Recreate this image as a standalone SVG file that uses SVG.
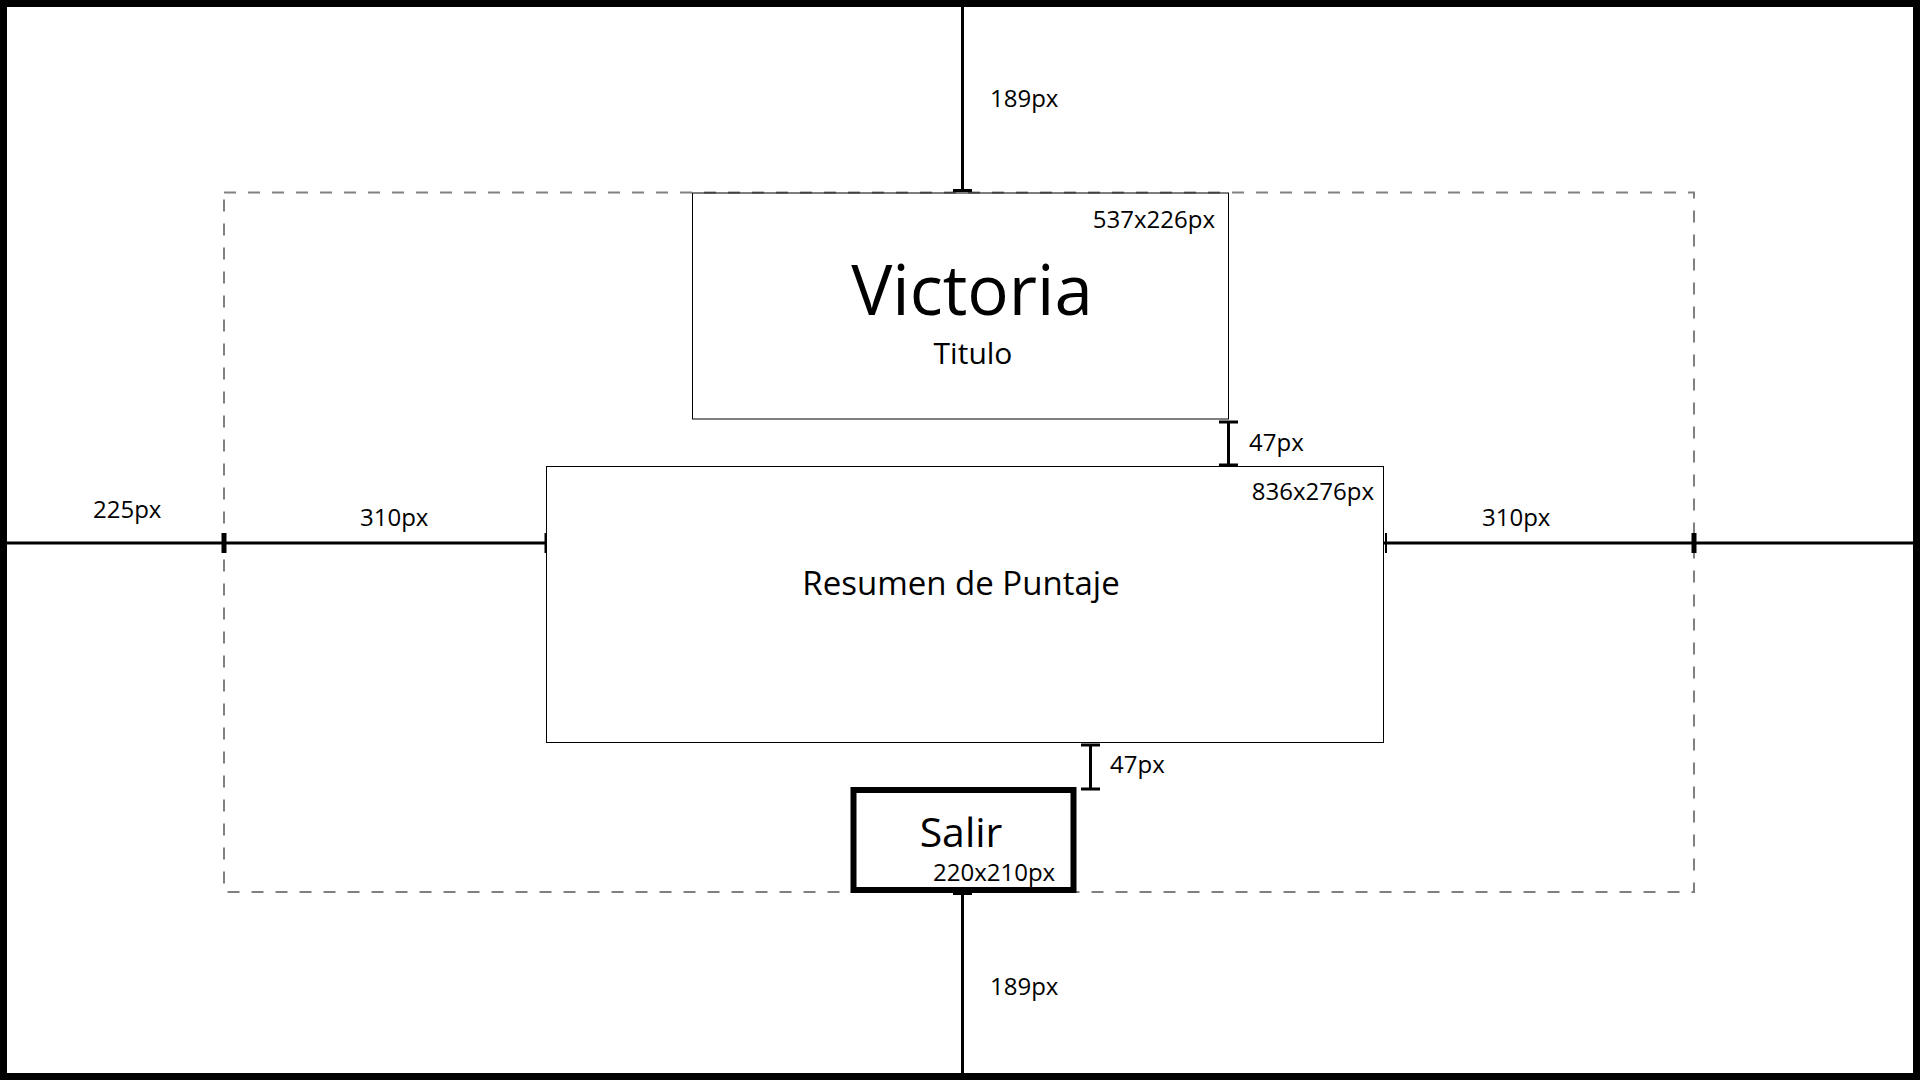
<svg xmlns="http://www.w3.org/2000/svg" width="1920" height="1080" viewBox="0 0 1920 1080">
<style>
  text { font-family: "Open Sans", "Noto Sans", "Liberation Sans", sans-serif; fill: #000; }
  .dim { font-size: 24px; }
  .box { fill: none; stroke: #000; stroke-width: 1; }
  .line { stroke: #000; stroke-width: 3; fill: none; }
  .tick { stroke: #000; fill: none; }
</style>
<rect x="0" y="0" width="1920" height="1080" fill="#fff"/>
<g id="frame">
  <rect x="3.5" y="3.5" width="1913" height="1073" fill="none" stroke="#000" stroke-width="7"/>
</g>
<g id="safe-area">
  <rect x="224" y="192.5" width="1470" height="699.5" fill="none" stroke="#808080" stroke-width="2" stroke-dasharray="12 12"/>
</g>
<g id="title">
  <rect class="box" x="692.5" y="193" width="536" height="226"/>
  <text class="dim" x="1215" y="228" text-anchor="end">537x226px</text>
  <text x="972" y="315" font-size="69" text-anchor="middle">Victoria</text>
  <text x="973" y="364" font-size="30" text-anchor="middle">Titulo</text>
</g>
<g id="score">
  <rect class="box" x="546.5" y="466.5" width="837" height="276"/>
  <text class="dim" x="1374" y="500" text-anchor="end">836x276px</text>
  <text x="961" y="595" font-size="33" text-anchor="middle">Resumen de Puntaje</text>
</g>
<g id="exit">
  <rect x="853.5" y="790" width="220" height="100" fill="none" stroke="#000" stroke-width="6"/>
  <text x="961" y="847" font-size="41" text-anchor="middle">Salir</text>
  <text class="dim" x="933" y="881">220x210px</text>
</g>
<g id="connectors">
  <line class="line" x1="962.5" y1="7" x2="962.5" y2="191"/>
  <line class="tick" x1="953" y1="190.5" x2="972" y2="190.5" stroke-width="3"/>
  <text class="dim" x="990" y="107">189px</text>
  <line class="line" x1="1228.5" y1="421" x2="1228.5" y2="466"/>
  <line class="tick" x1="1219" y1="422" x2="1238" y2="422" stroke-width="3"/>
  <line class="tick" x1="1219" y1="465" x2="1238" y2="465" stroke-width="3"/>
  <text class="dim" x="1249" y="451">47px</text>
  <line class="line" x1="7" y1="543" x2="546" y2="543"/>
  <line class="line" x1="1384" y1="543" x2="1913" y2="543"/>
  <line class="tick" x1="224" y1="533" x2="224" y2="553" stroke-width="5"/>
  <line class="tick" x1="545.5" y1="533" x2="545.5" y2="553" stroke-width="2"/>
  <line class="tick" x1="1386" y1="533" x2="1386" y2="553" stroke-width="2"/>
  <line class="tick" x1="1694" y1="533" x2="1694" y2="553" stroke-width="5"/>
  <text class="dim" x="93" y="518">225px</text>
  <text class="dim" x="360" y="526">310px</text>
  <text class="dim" x="1482" y="526">310px</text>
  <line class="line" x1="1090.5" y1="745" x2="1090.5" y2="789"/>
  <line class="tick" x1="1081" y1="745" x2="1100" y2="745" stroke-width="3"/>
  <line class="tick" x1="1081" y1="789" x2="1100" y2="789" stroke-width="3"/>
  <text class="dim" x="1110" y="773">47px</text>
  <line class="line" x1="962.5" y1="893" x2="962.5" y2="1073"/>
  <line class="tick" x1="953" y1="894" x2="972" y2="894" stroke-width="2"/>
  <text class="dim" x="990" y="995">189px</text>
</g>
</svg>
